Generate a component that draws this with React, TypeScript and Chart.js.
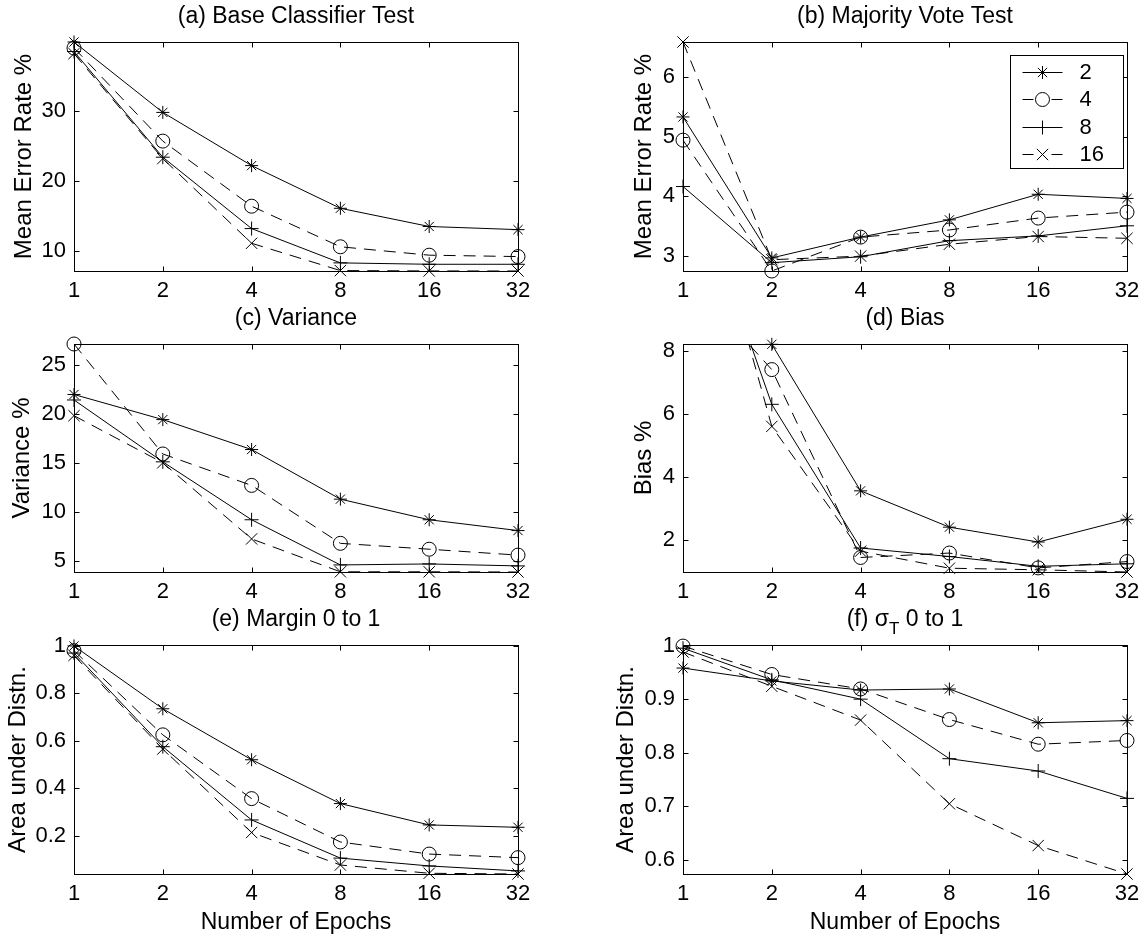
import React, { useEffect, useRef } from 'react';
import { Chart, registerables } from 'chart.js';

Chart.register(...registerables);

const FONT = "'Liberation Sans', Arial, Helvetica, sans-serif";
const TICK_FS = 22;
const TITLE_FS = 23;
const YLABEL_FS = 24;

// ---------- data ----------
const epochs = [1, 2, 4, 8, 16, 32];
const legendLabels = ['2', '4', '8', '16'];

// (a) Base Classifier Test
const baseErr2 = [39.86, 29.8, 22.2, 16.1, 13.5, 13.05];
const baseErr4 = [39.0, 25.7, 16.4, 10.6, 9.4, 9.2];
const baseErr8 = [38.5, 23.4, 13.2, 8.3, 8.1, 8.1];
const baseErr16 = [38.2, 23.2, 11.1, 7.2, 7.15, 7.14];
const baseErrRange = [7.14, 39.86];
const baseErrTicks = [10, 20, 30];

// (b) Majority Vote Test
const majErr2 = [5.33, 2.96, 3.31, 3.6, 4.03, 3.96];
const majErr4 = [4.94, 2.74, 3.31, 3.43, 3.63, 3.73];
const majErr8 = [4.16, 2.88, 2.98, 3.25, 3.33, 3.5];
const majErr16 = [6.59, 2.93, 2.99, 3.19, 3.32, 3.29];
const majErrRange = [2.74, 6.59];
const majErrTicks = [3, 4, 5, 6];

// (c) Variance
const var2 = [21.96, 19.4, 16.35, 11.3, 9.2, 8.1];
const var4 = [27.1, 15.9, 12.7, 6.8, 6.2, 5.6];
const var8 = [21.4, 15.1, 9.2, 4.6, 4.7, 4.5];
const var16 = [19.8, 15.0, 7.25, 3.9, 3.9, 3.88];
const varRange = [3.88, 27.1];
const varTicks = [5, 10, 15, 20, 25];

// (d) Bias
const bias2 = [15.5, 8.2, 3.56, 2.41, 1.94, 2.66];
const bias4 = [10.5, 7.4, 1.45, 1.59, 1.12, 1.32];
const bias8 = [14.3, 6.3, 1.75, 1.48, 1.17, 1.25];
const bias16 = [15.7, 5.6, 1.65, 1.11, 1.06, 0.99];
const biasRange = [0.99, 8.21];
const biasTicks = [2, 4, 6, 8];

// (e) Margin 0 to 1
const margin2 = [1.0, 0.735, 0.52, 0.335, 0.245, 0.235];
const margin4 = [0.98, 0.625, 0.356, 0.173, 0.122, 0.107];
const margin8 = [0.97, 0.575, 0.266, 0.105, 0.072, 0.051];
const margin16 = [0.96, 0.565, 0.213, 0.076, 0.041, 0.038];
const marginRange = [0.038, 1.004];
const marginTicks = [0.2, 0.4, 0.6, 0.8, 1];

// (f) sigma_T 0 to 1
const sigma2 = [0.958, 0.934, 0.917, 0.919, 0.856, 0.86];
const sigma4 = [0.999, 0.946, 0.919, 0.862, 0.816, 0.823];
const sigma8 = [0.995, 0.936, 0.9, 0.789, 0.766, 0.715];
const sigma16 = [0.988, 0.924, 0.861, 0.705, 0.627, 0.574];
const sigmaRange = [0.574, 1.001];
const sigmaTicks = [0.6, 0.7, 0.8, 0.9, 1];

// ---------- styles ----------
const DASH = [12, 8];
const seriesStyles = [
  { marker: 'star', radius: 6.5, dashed: false },
  { marker: 'circle', radius: 7, dashed: true },
  { marker: 'cross', radius: 7, dashed: false },
  { marker: 'crossRot', radius: 8, dashed: true },
];

type Seg = { text: string; sub?: boolean };
type PanelProps = {
  left: number;
  top: number;
  width: number;
  height: number;
  title: Seg[];
  ylabel: string;
  ylabelX: number;
  xlabel?: string;
  series: number[][];
  range: number[];
  ticks: number[];
  legend?: boolean;
};

const LM = 74;
const TM = 40;
const RM = 22;

function drawMarker(ctx: CanvasRenderingContext2D, marker: string, mx: number, yy: number, r: number) {
  ctx.beginPath();
  if (marker === 'circle') {
    ctx.arc(mx, yy, r, 0, Math.PI * 2);
  }
  if (marker === 'cross' || marker === 'star') {
    ctx.moveTo(mx - r, yy);
    ctx.lineTo(mx + r, yy);
    ctx.moveTo(mx, yy - r);
    ctx.lineTo(mx, yy + r);
  }
  if (marker === 'crossRot' || marker === 'star') {
    const d = r * Math.SQRT1_2;
    ctx.moveTo(mx - d, yy - d);
    ctx.lineTo(mx + d, yy + d);
    ctx.moveTo(mx - d, yy + d);
    ctx.lineTo(mx + d, yy - d);
  }
  ctx.stroke();
}

function Panel(p: PanelProps) {
  const ref = useRef<HTMLCanvasElement | null>(null);
  const BM = p.xlabel ? 66 : 40;
  const cw = p.width + LM + RM;
  const ch = p.height + TM + BM;
  useEffect(() => {
    const canvas = ref.current;
    if (!canvas) return;
    const [ymin, ymax] = p.range;
    const datasets: any[] = [];
    p.series.forEach((vals, i) => {
      const st = seriesStyles[i];
      datasets.push({
        label: legendLabels[i],
        data: vals,
        borderColor: '#000',
        borderWidth: 1,
        borderDash: st.dashed ? DASH : [],
        pointRadius: 0,
        fill: false,
        tension: 0,
      });
      datasets.push({
        label: legendLabels[i] + ' markers',
        data: vals.map((v) => (v >= ymin - 1e-9 && v <= ymax + 1e-9 ? v : null)),
        showLine: false,
        clip: false,
        pointStyle: st.marker,
        pointRadius: st.radius,
        pointBorderColor: '#000',
        pointBackgroundColor: 'rgba(0,0,0,0)',
        pointBorderWidth: 1,
        borderColor: '#000',
      });
    });

    const plugin = {
      id: 'matlabAxes',
      afterDraw(chart: any) {
        const ctx = chart.ctx;
        const { left, right, top, bottom } = chart.chartArea;
        const xs = chart.scales.x;
        const ys = chart.scales.y;
        ctx.save();
        ctx.strokeStyle = '#000';
        ctx.lineWidth = 1;
        ctx.setLineDash([]);
        const L = Math.round(left) + 0.5;
        const R = Math.round(right) + 0.5;
        const T = Math.round(top) + 0.5;
        const B = Math.round(bottom) + 0.5;
        ctx.strokeRect(L, T, R - L, B - T);
        const tl = 5;
        ctx.beginPath();
        epochs.forEach((_, i) => {
          const x = Math.round(xs.getPixelForValue(i)) + 0.5;
          ctx.moveTo(x, B);
          ctx.lineTo(x, B - tl);
          ctx.moveTo(x, T);
          ctx.lineTo(x, T + tl);
        });
        p.ticks.forEach((v) => {
          const y = Math.round(ys.getPixelForValue(v)) + 0.5;
          ctx.moveTo(L, y);
          ctx.lineTo(L + tl, y);
          ctx.moveTo(R, y);
          ctx.lineTo(R - tl, y);
        });
        ctx.stroke();

        // title
        const subFS = Math.round(TITLE_FS * 0.72);
        let total = 0;
        p.title.forEach((s) => {
          ctx.font = `${s.sub ? subFS : TITLE_FS}px ${FONT}`;
          total += ctx.measureText(s.text).width;
        });
        let tx = (left + right) / 2 - total / 2;
        const ty = top - 25;
        ctx.fillStyle = '#000';
        ctx.textBaseline = 'middle';
        ctx.textAlign = 'left';
        p.title.forEach((s) => {
          ctx.font = `${s.sub ? subFS : TITLE_FS}px ${FONT}`;
          ctx.fillText(s.text, tx, s.sub ? ty + 9 : ty);
          tx += ctx.measureText(s.text).width;
        });

        // legend
        if (p.legend) {
          const bw = 113;
          const bh = 113;
          const bx = Math.round(right) - 4 - bw + 0.5;
          const by = Math.round(top) + 13 + 0.5;
          ctx.fillStyle = '#fff';
          ctx.fillRect(bx, by, bw, bh);
          ctx.strokeStyle = '#000';
          ctx.lineWidth = 1;
          ctx.strokeRect(bx, by, bw, bh);
          legendLabels.forEach((lab, i) => {
            const st = seriesStyles[i];
            const yy = Math.round(by + 16.5 + i * 27.4) + 0.5;
            const x0 = bx + 12;
            const x1 = bx + 52;
            ctx.beginPath();
            if (st.dashed) {
              ctx.moveTo(x0, yy);
              ctx.lineTo(x0 + 11, yy);
              ctx.moveTo(x1 - 11, yy);
              ctx.lineTo(x1, yy);
            } else {
              ctx.moveTo(x0, yy);
              ctx.lineTo(x1, yy);
            }
            ctx.stroke();
            drawMarker(ctx, st.marker, (x0 + x1) / 2, yy, st.radius);
            ctx.fillStyle = '#000';
            ctx.font = `${TICK_FS}px ${FONT}`;
            ctx.textBaseline = 'middle';
            ctx.textAlign = 'left';
            ctx.fillText(lab, bx + 69, yy);
          });
        }
        ctx.restore();
      },
    };

    const xlh = TITLE_FS * 1.2;
    const ylh = YLABEL_FS * 1.2;
    const chart = new Chart(canvas, {
      type: 'line',
      data: { labels: epochs.map(String), datasets },
      options: {
        responsive: false,
        animation: false,
        events: [],
        layout: { padding: { top: TM, right: RM, left: 0, bottom: 0 } },
        plugins: { legend: { display: false }, tooltip: { enabled: false }, title: { display: false } },
        scales: {
          x: {
            type: 'category',
            offset: false,
            grid: { display: false, drawTicks: false },
            border: { display: false },
            ticks: {
              color: '#000',
              font: { family: FONT, size: TICK_FS },
              padding: 7,
              autoSkip: false,
              maxRotation: 0,
            },
            title: p.xlabel
              ? {
                  display: true,
                  text: p.xlabel,
                  color: '#000',
                  font: { family: FONT, size: TITLE_FS },
                  padding: { top: 0, bottom: BM - 49 - xlh / 2 },
                }
              : { display: false },
            afterFit: (s: any) => {
              s.height = BM;
            },
          },
          y: {
            type: 'linear',
            min: ymin,
            max: ymax,
            grid: { display: false, drawTicks: false },
            border: { display: false },
            ticks: {
              color: '#000',
              font: { family: FONT, size: TICK_FS },
              padding: 8,
              autoSkip: false,
              callback: (v: any) => String(v),
            },
            afterBuildTicks: (s: any) => {
              s.ticks = p.ticks.map((v) => ({ value: v }));
            },
            title: {
              display: true,
              text: p.ylabel,
              color: '#000',
              font: { family: FONT, size: YLABEL_FS },
              padding: { top: p.ylabelX - p.left + LM - ylh / 2, bottom: 0 },
            },
            afterFit: (s: any) => {
              s.width = LM;
            },
          },
        },
      } as any,
      plugins: [plugin],
    });
    return () => chart.destroy();
  }, []);

  return (
    <canvas
      ref={ref}
      width={cw}
      height={ch}
      style={{ position: 'absolute', left: p.left - LM, top: p.top - TM, width: cw, height: ch }}
    />
  );
}

export default function App() {
  return (
    <div
      style={{
        position: 'absolute',
        left: 0,
        top: 0,
        width: 1148,
        height: 940,
        background: '#fff',
        overflow: 'hidden',
      }}
    >
      <Panel
        left={74}
        top={42}
        width={444}
        height={229}
        title={[{ text: '(a) Base Classifier Test' }]}
        ylabel="Mean Error Rate %"
        ylabelX={24}
        series={[baseErr2, baseErr4, baseErr8, baseErr16]}
        range={baseErrRange}
        ticks={baseErrTicks}
      />
      <Panel
        left={683}
        top={42}
        width={444}
        height={229}
        title={[{ text: '(b) Majority Vote Test' }]}
        ylabel="Mean Error Rate %"
        ylabelX={644}
        series={[majErr2, majErr4, majErr8, majErr16]}
        range={majErrRange}
        ticks={majErrTicks}
        legend
      />
      <Panel
        left={74}
        top={344}
        width={444}
        height={228}
        title={[{ text: '(c) Variance' }]}
        ylabel="Variance %"
        ylabelX={22}
        series={[var2, var4, var8, var16]}
        range={varRange}
        ticks={varTicks}
      />
      <Panel
        left={683}
        top={344}
        width={444}
        height={228}
        title={[{ text: '(d) Bias' }]}
        ylabel="Bias %"
        ylabelX={644}
        series={[bias2, bias4, bias8, bias16]}
        range={biasRange}
        ticks={biasTicks}
      />
      <Panel
        left={74}
        top={645}
        width={444}
        height={229}
        title={[{ text: '(e) Margin 0 to 1' }]}
        ylabel="Area under Distn."
        ylabelX={18}
        xlabel="Number of Epochs"
        series={[margin2, margin4, margin8, margin16]}
        range={marginRange}
        ticks={marginTicks}
      />
      <Panel
        left={683}
        top={645}
        width={444}
        height={229}
        title={[{ text: '(f) σ' }, { text: 'T', sub: true }, { text: ' 0 to 1' }]}
        ylabel="Area under Distn."
        ylabelX={626}
        xlabel="Number of Epochs"
        series={[sigma2, sigma4, sigma8, sigma16]}
        range={sigmaRange}
        ticks={sigmaTicks}
      />
    </div>
  );
}
